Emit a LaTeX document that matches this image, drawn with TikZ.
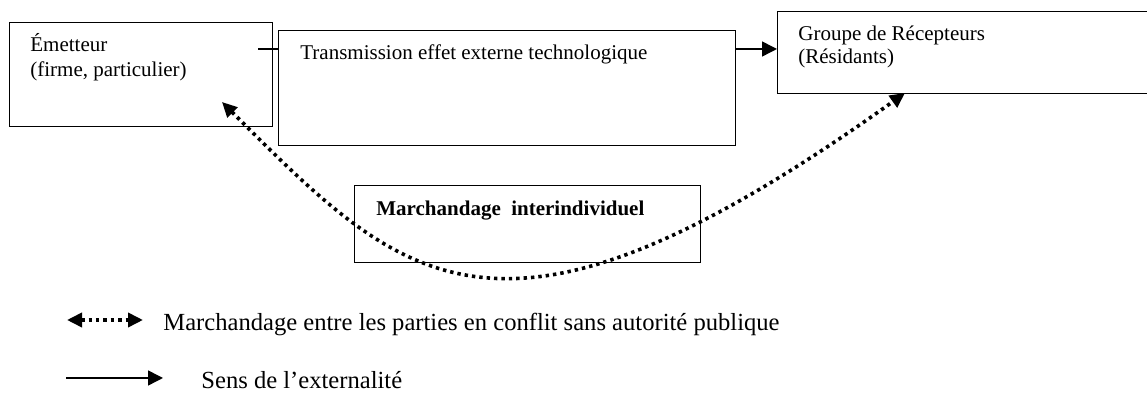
\documentclass[tikz,border=0pt]{standalone}
\usepackage{fontspec}
\setmainfont{Liberation Serif}
\usetikzlibrary{arrows.meta}
\begin{document}
\begin{tikzpicture}[x=0.5pt,y=-0.5pt,
  box/.style={draw=black,line width=0.7pt,inner sep=0pt,anchor=north west},
  boxtxt/.style={inner sep=0pt,anchor=base west,font=\fontsize{10.5}{12.6}\selectfont},
  legtxt/.style={inner sep=0pt,anchor=base west,font=\fontsize{12.3}{14.5}\selectfont},
  flow/.style={line width=0.75pt,-{Triangle[length=7.5pt,width=7.5pt]}},
  barg/.style={line width=1.8pt,dash pattern=on 1.7pt off 2pt,
    {Triangle[length=7.5pt,width=7pt]}-{Triangle[length=7.5pt,width=7pt]}}]
\useasboundingbox (0,0) rectangle (1147,394);
\clip (0,0) rectangle (1147,394);
% boxes
\node[box,minimum width=131.5pt,minimum height=52pt] (em) at (9,22) {};
\node[box,minimum width=228.5pt,minimum height=57.5pt] (tr) at (278,30) {};
\node[box,minimum width=200pt,minimum height=41pt] (rc) at (777,11) {};
\node[box,minimum width=173pt,minimum height=38.5pt] (mi) at (354,185) {};
% texts
\node[boxtxt] (em1) at (30,52) {Émetteur};
\node[boxtxt] (em2) at (30,77) {(firme, particulier)};
\node[boxtxt] (tr1) at (300,60) {Transmission effet externe technologique};
\node[boxtxt] (rc1) at (798,41) {Groupe de Récepteurs};
\node[boxtxt] (rc2) at (798,64) {(Résidants)};
\node[boxtxt,font=\fontsize{10.5}{12.6}\selectfont\bfseries] (mi1) at (376,216) {Marchandage~ interindividuel};
% externality flow
\coordinate (s) at (258,49);
\draw[line width=0.75pt] (s) -- (tr.west |- s);
\draw[flow] (tr.east |- s) -- (rc.west |- s);
% bargaining curve
\coordinate (d1) at (222,102);
\coordinate (d2) at (905,93);
\draw[barg] (d1) .. controls (405,285) and (499,383) .. (d2);
% legend
\coordinate (l1a) at (67,320);
\coordinate (l1b) at (143,320);
\draw[barg] (l1a) -- (l1b);
\node[legtxt] (lg1) at (163,331) {Marchandage entre les parties en conflit sans autorité publique};
\coordinate (l2a) at (66,378);
\coordinate (l2b) at (163,378);
\draw[flow] (l2a) -- (l2b);
\node[legtxt] (lg2) at (201,389) {Sens de l’externalité};
\end{tikzpicture}
\end{document}
